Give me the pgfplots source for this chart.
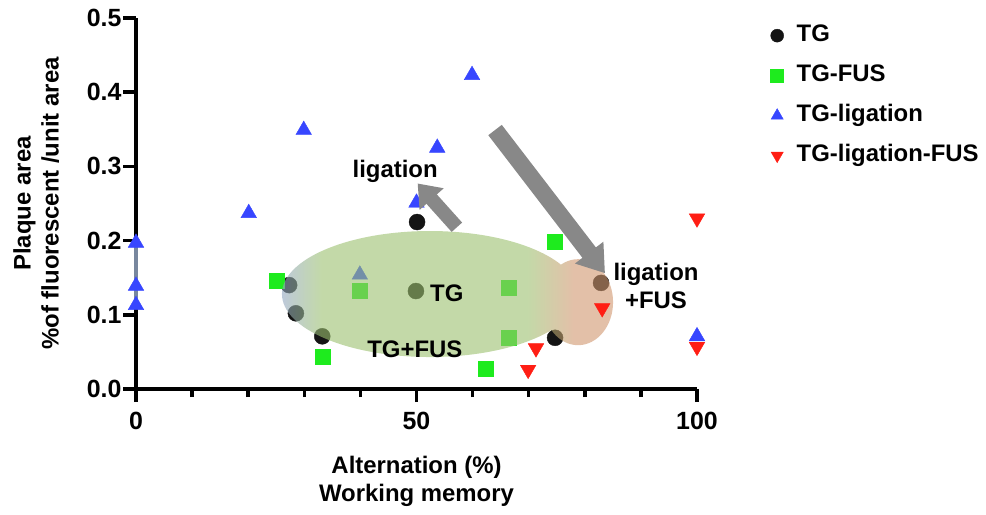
\documentclass[border=0pt]{standalone}
\usepackage{pgfplots}
\pgfplotsset{compat=1.18}
\usepackage{fontspec}
\setmainfont{Liberation Sans}
\usetikzlibrary{arrows.meta}
\definecolor{tgblack}{RGB}{20,20,20}
\definecolor{tggreen}{RGB}{30,235,30}
\definecolor{tgblue}{RGB}{55,70,255}
\definecolor{tgred}{RGB}{255,30,20}
\definecolor{ellgreen}{RGB}{155,192,110}
\definecolor{ellblue}{RGB}{145,165,192}
\definecolor{ellpink}{RGB}{208,150,110}
\definecolor{arrgray}{RGB}{136,136,136}
\definecolor{bargray}{RGB}{120,135,158}
\pgfdeclarehorizontalshading{ellshade}{100bp}{color(0bp)=(ellblue); color(25bp)=(ellblue); color(31bp)=(ellgreen); color(62bp)=(ellgreen); color(69bp)=(ellpink); color(75bp)=(ellpink); color(100bp)=(ellpink)}
\pgfplotsset{layers/mylayers/.define layer set={axis background,axis grid,axis ticks,axis lines,axis tick labels,main,ellipse,top,axis descriptions,axis foreground}{/pgfplots/layers/standard}}
\newcommand{\bfont}{\fontsize{24}{28}\selectfont\bfseries}
\begin{document}
\begin{tikzpicture}
\begin{axis}[
  name=ax, set layers=mylayers,
  scale only axis, width=561bp, height=371bp,
  xmin=0, xmax=100, ymin=0, ymax=0.5,
  axis x line*=bottom, axis y line*=left,
  axis line style={line width=3.5bp, black},
  clip=false, clip marker paths=true,
  xtick={0,50,100}, minor xtick={10,20,30,40,60,70,80,90},
  ytick={0,0.1,0.2,0.3,0.4,0.5},
  tick align=outside,
  major tick length=13bp, minor tick length=8bp,
  tick style={line width=3.5bp, black},
  yticklabel style={xshift=2bp, /pgf/number format/.cd, fixed, fixed zerofill, precision=1},
  /pgf/number format/assume math mode=true,
  tick label style={font=\fontsize{25}{30}\selectfont\bfseries},
  xticklabel style={yshift=-7bp},
  xlabel={Alternation (\%)\\Working memory},
  ylabel={Plaque area\\\%of fluorescent /unit area},
  x label style={at={(axis description cs:0.5,-0.25)}, anchor=center, align=center, font=\bfont},
  y label style={at={(axis description cs:-0.178,0.5)}, anchor=center, align=center, font=\bfont},
  legend style={at={(rel axis cs:1.131,0.988)}, anchor=north west, draw=none, fill=none,
    font=\bfont, row sep=14bp, column sep=11bp, inner sep=0pt,
    nodes={inner sep=2bp, text height=17bp, text depth=5bp}},
  legend cell align=left,
]
\addplot[bargray, line width=4bp, forget plot] coordinates {(0,0.113) (0,0.197)};
\addplot[only marks, mark=*, color=tgblack, mark size=8bp, legend image post style={mark size=6.5bp}] coordinates {
  (27.3,0.140) (28.5,0.102) (33.2,0.071) (50.1,0.225) (49.9,0.132) (82.9,0.143) (74.7,0.069)};
\addlegendentry{TG}
\addplot[only marks, mark=square*, color=tggreen, mark size=7.5bp, legend image post style={mark size=6.5bp}] coordinates {
  (25.0,0.146) (39.9,0.132) (33.3,0.043) (62.4,0.027) (66.5,0.136) (66.5,0.069) (74.7,0.198)};
\addlegendentry{TG-FUS}
\addplot[only marks, mark=triangle*, color=tgblue, mark size=9bp, legend image post style={mark size=7bp}] coordinates {
  (0,0.197) (0,0.139) (0,0.113) (20.1,0.237) (29.9,0.349) (39.9,0.154) (50,0.251) (53.7,0.325) (59.9,0.423) (100,0.071)};
\addlegendentry{TG-ligation}
\addplot[only marks, mark=triangle*, color=tgred, mark size=9bp, mark options={rotate=180}, legend image post style={mark size=7bp}, on layer=top] coordinates {
  (100,0.230) (83.1,0.109) (71.3,0.055) (69.9,0.026) (100,0.057)};
\addlegendentry{TG-ligation-FUS}
\begin{pgfonlayer}{ellipse}
\shade[shading=ellshade, opacity=0.6] (axis cs:52.4,0.128) ellipse [x radius=148bp, y radius=63bp]
  (axis cs:78.8,0.117) ellipse [x radius=35bp, y radius=43bp];
\end{pgfonlayer}
\begin{pgfonlayer}{top}
\draw[arrgray, line width=14bp, -{Triangle[width=31bp,length=21bp]}] (axis cs:57.2,0.218) -- (axis cs:50.2,0.277);
\draw[arrgray, line width=17bp, -{Triangle[width=34bp,length=26bp]}] (axis cs:64.0,0.349) -- (axis cs:83.6,0.156);
\node[font=\bfont] at (axis cs:46.2,0.293) {ligation};
\node[font=\bfont] at (axis cs:55.4,0.129) {TG};
\node[font=\bfont] at (axis cs:49.7,0.053) {TG+FUS};
\node[font=\bfont, align=center] at (axis cs:92.7,0.139) {ligation\\+FUS};
\end{pgfonlayer}
\end{axis}
\pgfresetboundingbox
\path (ax.south west) ++(-136bp,-126bp) rectangle ++(986bp,515bp);
\end{tikzpicture}
\end{document}
